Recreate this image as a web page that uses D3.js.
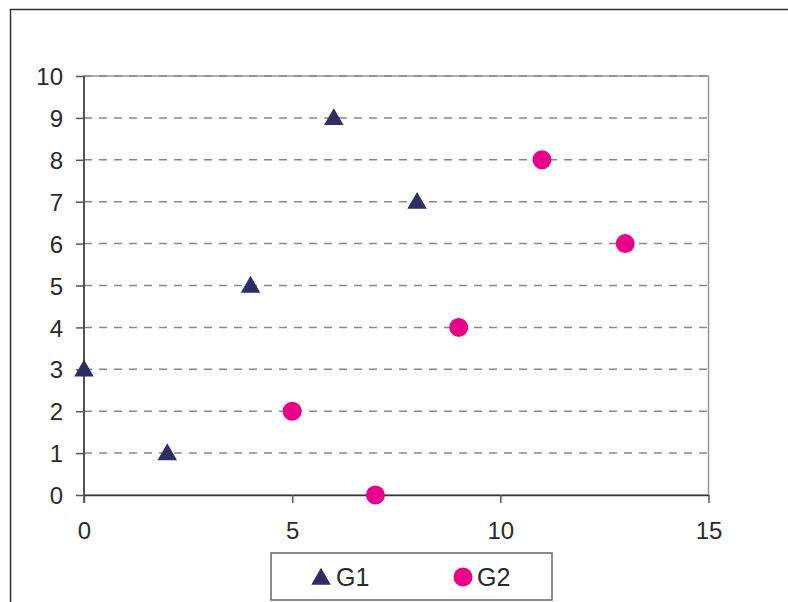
<!DOCTYPE html>
<html><head><meta charset="utf-8">
<script src="https://cdn.jsdelivr.net/npm/d3@7"></script>
<style>body{margin:0;background:#fff}svg{display:block}</style>
</head><body>
<svg id="c" width="788" height="602"></svg>
<script>
const g1X = [0, 2, 4, 6, 8];
const g1Y = [3, 1, 5, 9, 7];
const g2X = [5, 7, 9, 11, 13];
const g2Y = [2, 0, 4, 8, 6];
const seriesNames = ["G1", "G2"];
const xTicks = [0, 5, 10, 15];
const yTicks = [0, 1, 2, 3, 4, 5, 6, 7, 8, 9, 10];

const svg = d3.select("#c");
const font = "'Liberation Sans', Arial, sans-serif";
const c1 = "#2e2d66", c2 = "#e8008a";

// outer chart border
svg.append("rect").attr("x", 10.5).attr("y", 9.5).attr("width", 900).attr("height", 700)
  .attr("fill", "none").attr("stroke", "#333").attr("stroke-width", 1.5);

const x = d3.scaleLinear().domain([0, 15]).range([84, 708.5]);
const y = d3.scaleLinear().domain([0, 10]).range([495, 76]);

// plot border (top/right)
svg.append("rect").attr("x", x(0)).attr("y", y(10)).attr("width", x(15) - x(0)).attr("height", y(0) - y(10))
  .attr("fill", "none").attr("stroke", "#999").attr("stroke-width", 1.5);

// grid
svg.append("g").selectAll("line").data(yTicks.filter(d => d > 0)).join("line")
  .attr("x1", x(0)).attr("x2", x(15)).attr("y1", d => y(d)).attr("y2", d => y(d))
  .attr("stroke", "#888").attr("stroke-width", 1.5).attr("stroke-dasharray", "8,7");

// axes
const yAxis = svg.append("g").attr("transform", `translate(${x(0)},0)`)
  .call(d3.axisLeft(y).tickValues(yTicks).tickSize(8).tickPadding(13).tickSizeOuter(0));
const xAxis = svg.append("g").attr("transform", `translate(0,${y(0)})`)
  .call(d3.axisBottom(x).tickValues(xTicks).tickSize(8).tickPadding(19).tickSizeOuter(0));
[yAxis, xAxis].forEach(a => {
  a.select(".domain").attr("stroke", "#333").attr("stroke-width", 1.5);
  a.selectAll(".tick line").attr("stroke", "#555").attr("stroke-width", 1.5);
  a.selectAll("text").attr("font-family", font).attr("font-size", 24).attr("fill", "#2a2a2a");
});
yAxis.selectAll("text").attr("dy", "0.36em");
yAxis.select(".domain").attr("d", `M0,${y(0) + 8}V${y(10)}`);

const tri = d3.symbol().type(d3.symbolTriangle).size(165);
const circ = d3.symbol().type(d3.symbolCircle).size(Math.PI * 9.5 * 9.5);

svg.append("g").selectAll("path").data(g2X.map((d, i) => [d, g2Y[i]])).join("path")
  .attr("d", circ).attr("transform", d => `translate(${x(d[0])},${y(d[1])})`).attr("fill", c2);
svg.append("g").selectAll("path").data(g1X.map((d, i) => [d, g1Y[i]])).join("path")
  .attr("d", tri).attr("transform", d => `translate(${x(d[0])},${y(d[1]) + 1.5})`).attr("fill", c1);

// legend
const lg = svg.append("g");
lg.append("rect").attr("x", 271).attr("y", 553).attr("width", 281).attr("height", 47)
  .attr("fill", "#fff").attr("stroke", "#666").attr("stroke-width", 1.5);
lg.append("path").attr("d", tri).attr("transform", "translate(321,579)").attr("fill", c1);
lg.append("path").attr("d", circ).attr("transform", "translate(463,577)").attr("fill", c2);
lg.append("text").attr("x", 336).attr("y", 586).text(seriesNames[0])
  .attr("font-family", font).attr("font-size", 25).attr("fill", "#2a2a2a");
lg.append("text").attr("x", 477).attr("y", 586).text(seriesNames[1])
  .attr("font-family", font).attr("font-size", 25).attr("fill", "#2a2a2a");
</script>
</body></html>
